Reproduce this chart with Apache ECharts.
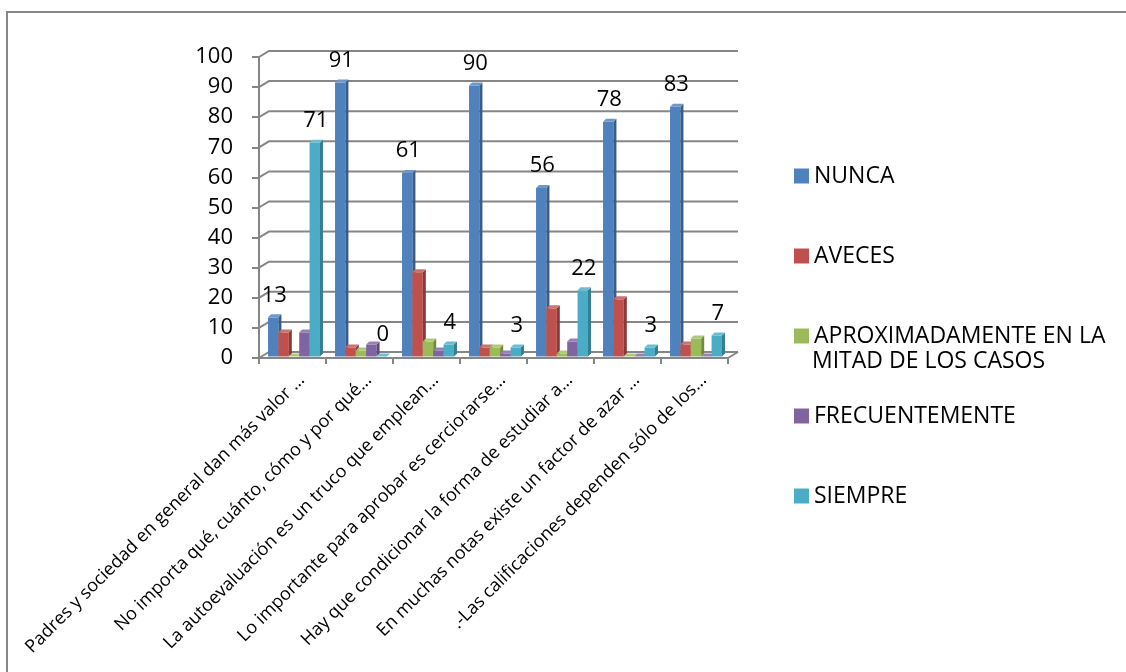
<!DOCTYPE html>
<html>
<head>
<meta charset="utf-8">
<script src="https://cdn.jsdelivr.net/npm/echarts@6/dist/echarts.min.js"></script>
<style>
  html, body { margin: 0; padding: 0; background: #fff; }
  #chart { width: 1126px; height: 672px; }
</style>
</head>
<body>
<div id="chart"></div>
<script>
// Survey statements (labels as they appear on the axis, truncated)
const categories = [
  'Padres y sociedad en general dan más valor …',
  'No importa qué, cuánto, cómo y por qué…',
  'La autoevaluación es un truco que emplean…',
  'Lo importante para aprobar es cerciorarse…',
  'Hay que condicionar la forma de estudiar a…',
  'En muchas notas existe un factor de azar …',
  '.-Las calificaciones dependen sólo de los…'
];

const seriesNames = [
  'NUNCA',
  'AVECES',
  'APROXIMADAMENTE EN LA MITAD DE LOS CASOS',
  'FRECUENTEMENTE',
  'SIEMPRE'
];

// Answer counts per statement
const nunca      = [13, 91, 61, 90, 56, 78, 83];
const aveces     = [8, 3, 28, 3, 16, 19, 4];
const aprox      = [0, 2, 5, 3, 1, 0, 6];
const frecuente  = [8, 4, 2, 1, 5, 0, 0];
const siempre    = [71, 0, 4, 3, 22, 3, 7];

const yTicks = [0, 10, 20, 30, 40, 50, 60, 70, 80, 90, 100];

// front / side / top face colours of each column
const palette = [
  { front: '#4F81BD', side: '#385D8A', top: '#6F97C9' },
  { front: '#C0504D', side: '#8C3836', top: '#CD716F' },
  { front: '#9BBB59', side: '#71893F', top: '#AFC97A' },
  { front: '#8064A2', side: '#5C4776', top: '#9880B4' },
  { front: '#4BACC6', side: '#357D91', top: '#6DBDD2' }
];

const GRID_COLOR = '#868686';
const WALL_DX = 10, WALL_DY = -6;   // back wall offset for the 3-D look
const DEPTH = 3;                     // column depth
const FONT = '"Open Sans", "Liberation Sans", sans-serif';

// Back wall gridlines with the short diagonal connectors and the floor edge
function wallRenderer(params, api) {
  const v = api.value(1);
  const band = api.size([1, 0])[0];
  const l = api.coord([0, v]);
  const r = api.coord([categories.length - 1, v]);
  const leftX = l[0] - band / 2;
  const rightX = r[0] + band / 2;
  const y = l[1];
  const children = [{
    type: 'polyline',
    shape: { points: [[leftX, y], [leftX + WALL_DX, y + WALL_DY], [rightX + WALL_DX, y + WALL_DY]] },
    style: { stroke: GRID_COLOR, lineWidth: 2, fill: null }
  }];
  if (v === 0) {
    children.push({
      type: 'line',
      shape: { x1: rightX, y1: y, x2: rightX + WALL_DX, y2: y + WALL_DY },
      style: { stroke: GRID_COLOR, lineWidth: 2 }
    });
  }
  return { type: 'group', children };
}

// 3-D looking column: front rectangle, shaded side and lighter top
function columnRenderer(sIdx, showLabel) {
  const c = palette[sIdx];
  return function (params, api) {
    const i = api.value(0);
    const v = api.value(1);
    const topPt = api.coord([i, v]);
    const basePt = api.coord([i, 0]);
    const band = api.size([1, 0])[0];
    const w = band * 0.155;
    const x = topPt[0] - 2.5 * w + sIdx * w + 1.5;
    const yb = basePt[1] - 1.5;
    const yt = topPt[1] - 1.5;
    const d = DEPTH;
    const children = [];
    if (yb - yt > 0.5) {
      children.push({
        type: 'rect',
        shape: { x: x, y: yt, width: w, height: yb - yt },
        style: { fill: c.front }
      });
      children.push({
        type: 'polygon',
        shape: { points: [[x + w, yt], [x + w + d, yt - d], [x + w + d, yb - d], [x + w, yb]] },
        style: { fill: c.side }
      });
    }
    children.push({
      type: 'polygon',
      shape: { points: [[x, yt], [x + d, yt - d], [x + w + d, yt - d], [x + w, yt]] },
      style: { fill: c.top }
    });
    if (showLabel) {
      children.push({
        type: 'text',
        x: x + w / 2 + 1,
        y: yt - 22,
        style: {
          text: String(v),
          fill: '#000',
          fontSize: 22,
          fontFamily: FONT,
          align: 'center',
          verticalAlign: 'middle'
        }
      });
    }
    return { type: 'group', children };
  };
}

const values = [nunca, aveces, aprox, frecuente, siempre];
const labelled = [true, false, false, false, true];

const series = [{
  type: 'custom',
  name: 'wall',
  renderItem: wallRenderer,
  data: yTicks.map(t => [0, t]),
  clip: false,
  silent: true,
  z: 1
}];
values.forEach((arr, s) => {
  series.push({
    type: 'custom',
    name: seriesNames[s],
    itemStyle: { color: palette[s].front },
    renderItem: columnRenderer(s, labelled[s]),
    data: arr.map((v, i) => [i, v]),
    clip: false,
    z: 2 + s
  });
});

const chart = echarts.init(document.getElementById('chart'), null, { renderer: 'canvas' });
chart.setOption({
  animation: false,
  backgroundColor: '#fff',
  grid: { left: 259, right: 398, top: 57, bottom: 314, containLabel: false },
  xAxis: {
    type: 'category',
    data: categories,
    axisLine: { lineStyle: { color: GRID_COLOR, width: 2 } },
    axisTick: { show: true, length: 6, interval: 0, lineStyle: { color: GRID_COLOR, width: 2 } },
    axisLabel: {
      interval: 0,
      rotate: 45,
      margin: 10,
      verticalAlign: 'top',
      lineHeight: 26,
      color: '#000',
      fontSize: 18,
      fontFamily: FONT
    },
    splitLine: { show: false }
  },
  yAxis: {
    type: 'value',
    min: 0,
    max: 100,
    interval: 10,
    axisLine: { show: true, lineStyle: { color: GRID_COLOR, width: 2 } },
    axisTick: { show: true, length: 7, lineStyle: { color: GRID_COLOR, width: 2 } },
    axisLabel: { margin: 26, color: '#000', fontSize: 22, fontFamily: FONT },
    splitLine: { show: false }
  },
  legend: {
    data: seriesNames,
    orient: 'vertical',
    left: 789,
    top: 159,
    itemGap: 56,
    itemWidth: 15,
    itemHeight: 15,
    icon: 'rect',
    selectedMode: false,
    formatter: name => name === seriesNames[2] ? 'APROXIMADAMENTE EN LA' : name,
    textStyle: { color: '#000', fontSize: 23, lineHeight: 24, fontFamily: FONT }
  },
  graphic: [
    {
      type: 'rect',
      shape: { x: 7, y: 12, width: 1200, height: 800 },
      style: { fill: null, stroke: '#878787', lineWidth: 2 },
      silent: true
    },
    {
      type: 'text',
      left: 812,
      top: 350,
      style: { text: 'MITAD DE LOS CASOS', fill: '#000', fontSize: 23, fontFamily: FONT }
    }
  ],
  series
});
</script>
</body>
</html>
